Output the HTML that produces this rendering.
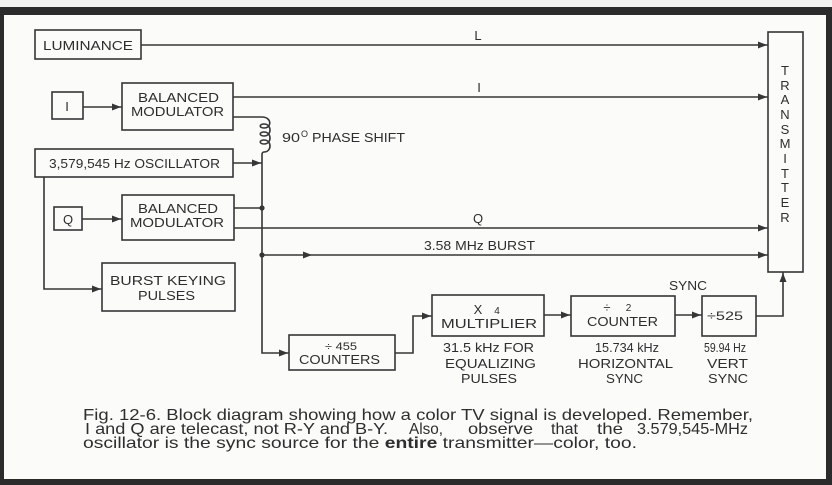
<!DOCTYPE html>
<html><head><meta charset="utf-8"><style>
html,body{margin:0;padding:0;background:#fbfbf9;}
svg{display:block;}
text{font-family:"Liberation Sans",sans-serif;fill:#2e2e2e;}
</style></head><body>
<svg width="832" height="485" viewBox="0 0 832 485" xmlns="http://www.w3.org/2000/svg">
<rect x="0" y="0" width="832" height="485" fill="#fbfbf9"/>
<rect x="0" y="0" width="832" height="7" fill="#f2f2f0"/>
<!-- frame -->
<rect x="0" y="7" width="832" height="8" fill="#2b2b2b"/>
<rect x="0" y="7" width="4" height="478" fill="#2b2b2b"/>
<rect x="826" y="7" width="6" height="478" fill="#2b2b2b"/>
<rect x="0" y="479" width="832" height="6" fill="#2b2b2b"/>

<g fill="none" stroke="#363636" stroke-width="1.6">
<!-- boxes -->
<rect x="35" y="30" width="106" height="29"/>
<rect x="52" y="92" width="31" height="27"/>
<rect x="122" y="83" width="111" height="47"/>
<rect x="35" y="149" width="198" height="28"/>
<rect x="54" y="207" width="28" height="23"/>
<rect x="122" y="195" width="112" height="45"/>
<rect x="102" y="263" width="133" height="48"/>
<rect x="289" y="335" width="106" height="35"/>
<rect x="432" y="295" width="112" height="41"/>
<rect x="571" y="296" width="104" height="40"/>
<rect x="702" y="296" width="54" height="40"/>
<rect x="768" y="32" width="35" height="240"/>
<!-- lines -->
<path d="M141 45 H768"/>
<path d="M83 107 H122"/>
<path d="M233 97 H768"/>
<path d="M233 117 H262"/>
<path d="M262 117 C272 117 272 128 264 128 C259 128 259 124 264 124 C272 124 272 136 264 136 C259 136 259 132 264 132 C272 132 272 144 264 144 C259 144 259 140 264 140 C272 140 272 152 264 152 C262 152 262 154 262 155"/>
<path d="M233 163 H262"/>
<path d="M262 155 V353 H289"/>
<path d="M82 219 H122"/>
<path d="M234 208 H262"/>
<path d="M234 228 H768"/>
<path d="M262 255 H768"/>
<path d="M44 177 V289 H102"/>
<path d="M395 353 H413 V316 H432"/>
<path d="M544 315 H571"/>
<path d="M675 315 H702"/>
<path d="M756 316 H783 V272"/>
</g>
<g fill="#363636">
<!-- arrowheads -->
<polygon points="767,45 758,41.5 758,48.5"/>
<polygon points="121,107 112,103.5 112,110.5"/>
<polygon points="767,97 758,93.5 758,100.5"/>
<polygon points="261,163 252,159.5 252,166.5"/>
<polygon points="121,219 112,215.5 112,222.5"/>
<polygon points="767,228 758,224.5 758,231.5"/>
<polygon points="312,255 303,251.5 303,258.5"/>
<polygon points="767,255 758,251.5 758,258.5"/>
<polygon points="101,289 92,285.5 92,292.5"/>
<polygon points="288,353 279,349.5 279,356.5"/>
<polygon points="431,316 422,312.5 422,319.5"/>
<polygon points="570,315 561,311.5 561,318.5"/>
<polygon points="701,315 692,311.5 692,318.5"/>
<polygon points="783,273 779.5,282 786.5,282"/>
<circle cx="262" cy="208" r="2.6"/>
<circle cx="262" cy="255" r="2.6"/>
</g>

<g font-size="13" text-anchor="middle">
<text x="88" y="50" textLength="90" lengthAdjust="spacingAndGlyphs">LUMINANCE</text>
<text x="178.5" y="102" textLength="81" lengthAdjust="spacingAndGlyphs">BALANCED</text>
<text x="177.5" y="116" textLength="93" lengthAdjust="spacingAndGlyphs">MODULATOR</text>
<text x="67" y="111">I</text>
<text x="134.5" y="168" textLength="171" lengthAdjust="spacingAndGlyphs">3,579,545 Hz OSCILLATOR</text>
<text x="68" y="224">Q</text>
<text x="178" y="213" textLength="80" lengthAdjust="spacingAndGlyphs">BALANCED</text>
<text x="177" y="227" textLength="94" lengthAdjust="spacingAndGlyphs">MODULATOR</text>
<text x="478" y="40">L</text>
<text x="479" y="92">I</text>
<text x="478" y="223">Q</text>
<text x="479.5" y="250" textLength="111" lengthAdjust="spacingAndGlyphs">3.58 MHz BURST</text>
<text x="168" y="285" textLength="116" lengthAdjust="spacingAndGlyphs">BURST KEYING</text>
<text x="166.5" y="300" textLength="57" lengthAdjust="spacingAndGlyphs">PULSES</text>
<text x="341" y="350" font-size="11" textLength="32" lengthAdjust="spacingAndGlyphs">÷ 455</text>
<text x="339.5" y="364" textLength="81" lengthAdjust="spacingAndGlyphs">COUNTERS</text>
<text x="478" y="314">X</text>
<text x="497" y="314" font-size="10">4</text>
<text x="489" y="328" textLength="96" lengthAdjust="spacingAndGlyphs">MULTIPLIER</text>
<text x="607" y="312" font-size="13">÷</text>
<text x="628.5" y="311" font-size="10">2</text>
<text x="622.5" y="326" textLength="71" lengthAdjust="spacingAndGlyphs">COUNTER</text>
<text x="725" y="320" font-size="12" textLength="36" lengthAdjust="spacingAndGlyphs">÷525</text>
<text x="688" y="290" textLength="38" lengthAdjust="spacingAndGlyphs">SYNC</text>
<text x="488.5" y="352" textLength="91" lengthAdjust="spacingAndGlyphs">31.5 kHz FOR</text>
<text x="490.5" y="368" textLength="91" lengthAdjust="spacingAndGlyphs">EQUALIZING</text>
<text x="489" y="383" textLength="56" lengthAdjust="spacingAndGlyphs">PULSES</text>
<text x="627" y="352" textLength="64" lengthAdjust="spacingAndGlyphs">15.734 kHz</text>
<text x="625.5" y="368" textLength="95" lengthAdjust="spacingAndGlyphs">HORIZONTAL</text>
<text x="624.5" y="383" textLength="37" lengthAdjust="spacingAndGlyphs">SYNC</text>
<text x="725" y="352" textLength="42" lengthAdjust="spacingAndGlyphs">59.94 Hz</text>
<text x="727.5" y="368" textLength="41" lengthAdjust="spacingAndGlyphs">VERT</text>
<text x="728" y="383" textLength="40" lengthAdjust="spacingAndGlyphs">SYNC</text>
<!-- transmitter letters -->
<text x="785" y="75">T</text>
<text x="785" y="90">R</text>
<text x="785" y="104">A</text>
<text x="785" y="119">N</text>
<text x="785" y="134">S</text>
<text x="785" y="148">M</text>
<text x="785" y="163">I</text>
<text x="785" y="178">T</text>
<text x="785" y="192">T</text>
<text x="785" y="207">E</text>
<text x="785" y="222">R</text>
</g>
<g font-size="13">
<text x="282" y="142" textLength="18" lengthAdjust="spacingAndGlyphs">90</text>
<text x="301" y="137" font-size="9">O</text>
<text x="312" y="142" textLength="93" lengthAdjust="spacingAndGlyphs">PHASE SHIFT</text>
</g>

<!-- caption -->
<g font-size="16" style="fill:#3a3a3a">
<text x="83" y="420" textLength="670" lengthAdjust="spacingAndGlyphs">Fig. 12-6. Block diagram showing how a color TV signal is developed. Remember,</text>
<text x="85" y="434" textLength="303" lengthAdjust="spacingAndGlyphs">I and Q are telecast, not R-Y and B-Y.</text>
<text x="409" y="434" textLength="34" lengthAdjust="spacingAndGlyphs">Also,</text>
<text x="468" y="434" textLength="65" lengthAdjust="spacingAndGlyphs">observe</text>
<text x="551" y="434" textLength="27" lengthAdjust="spacingAndGlyphs">that</text>
<text x="597" y="434" textLength="26" lengthAdjust="spacingAndGlyphs">the</text>
<text x="637" y="434" textLength="111" lengthAdjust="spacingAndGlyphs">3.579,545-MHz</text>
<text x="83" y="448" textLength="554" lengthAdjust="spacingAndGlyphs">oscillator is the sync source for the <tspan font-weight="bold">entire</tspan> transmitter—color, too.</text>
</g>
</svg>
</body></html>
